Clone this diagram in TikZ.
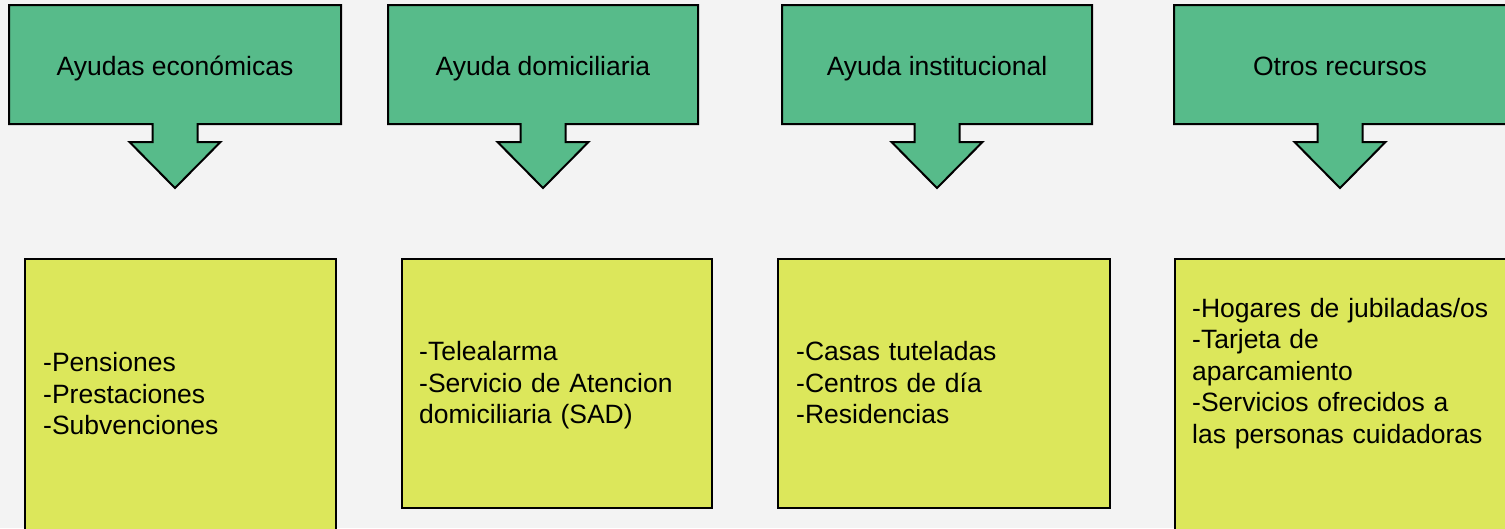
\documentclass[tikz,border=0pt]{standalone}
\usepackage{fontspec}
\setmainfont{Liberation Sans}
\definecolor{bgcol}{HTML}{F3F3F3}
\definecolor{callgreen}{HTML}{57BB8A}
\definecolor{boxyellow}{HTML}{DCE75B}
\newcommand{\mycallout}[3]{%
  \path[calloutshape] (#1,5) -- (#2,5) -- (#2,124) -- (#3+22.5,124) -- (#3+22.5,142)
    -- (#3+45.5,142) -- (#3,188) -- (#3-45.5,142) -- (#3-22.5,142) -- (#3-22.5,124)
    -- (#1,124) -- cycle;}
\tikzset{
  calloutshape/.style={fill=callgreen, draw=black, line width=2pt, line join=miter},
  titletext/.style={font=\fontsize{26.5}{31.6}\selectfont, inner sep=0pt, anchor=base},
  itembox/.style={fill=boxyellow, draw=black, line width=2pt, anchor=north west, inner sep=0pt},
  itemtext/.style={font=\fontsize{26.5}{31.6}\selectfont, inner sep=0pt, text width=310pt, align=left, anchor=base west},
}
\begin{document}
\begin{tikzpicture}[x=1pt, y=-1pt]
\useasboundingbox (0,0) rectangle (1505,528);
\clip (0,0) rectangle (1505,528);
\fill[bgcol] (0,0) rectangle (1505,528);

% callouts
\mycallout{9}{341}{175}
\mycallout{388}{698}{543}
\mycallout{782}{1092}{937}
\mycallout{1174}{1506}{1340}
\node[titletext] (h1) at (175,75) {Ayudas económicas};
\node[titletext] (h2) at (543,75) {Ayuda domiciliaria};
\node[titletext] (h3) at (937,75) {Ayuda institucional};
\node[titletext] (h4) at (1340,75) {Otros recursos};

% boxes
\node[itembox, minimum width=311pt, minimum height=280pt] (b1) at (24,258) {};
\node[itembox, minimum width=310pt, minimum height=249pt] (b2) at (401,258) {};
\node[itembox, minimum width=332pt, minimum height=249pt] (b3) at (777,258) {};
\node[itembox, minimum width=340pt, minimum height=280pt] (b4) at (1174,258) {};

\node[itemtext] (t1) at (43,371.7) {-Pensiones\\-Prestaciones\\-Subvenciones};
\node[itemtext] (t2) at (419,360.7) {-Telealarma\\-Servicio de Atencion\\domiciliaria (SAD)};
\node[itemtext] (t3) at (796,360.7) {-Casas tuteladas\\-Centros de día\\-Residencias};
\node[itemtext] (t4) at (1192,317) {-Hogares de jubiladas/os\\-Tarjeta de\\aparcamiento\\-Servicios ofrecidos a\\las personas cuidadoras};
\end{tikzpicture}
\end{document}
